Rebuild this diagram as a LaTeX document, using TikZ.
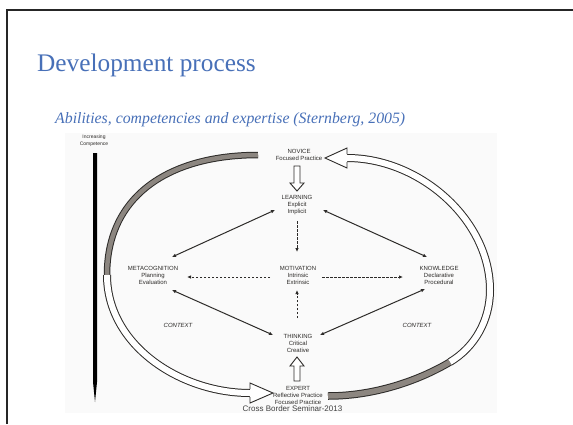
\documentclass[tikz,border=0pt]{standalone}
\usepackage{fontspec}
\setmainfont{Liberation Serif}
\newfontfamily\arialf{Liberation Sans}
\usetikzlibrary{arrows.meta}
\definecolor{titleblue}{RGB}{72,112,184}
\definecolor{ink}{RGB}{45,43,41}
\definecolor{ribbon}{RGB}{140,134,128}
\definecolor{footgray}{RGB}{64,64,64}
\begin{document}
\begin{tikzpicture}[x=1pt,y=-1pt,
  lbl/.style={font=\arialf\fontsize{6}{7}\selectfont, text=ink, align=center, inner sep=0},
  ctx/.style={font=\arialf\itshape\fontsize{6}{7}\selectfont, text=ink, inner sep=0},
  link/.style={draw=ink, line width=1pt, {Latex[length=4pt,width=3.5pt]}-{Latex[length=4pt,width=3.5pt]}},
  dlink/.style={draw=ink, line width=1pt, dash pattern=on 2.5pt off 1.5pt, -{Latex[length=4pt,width=3.5pt]}},
  hollowhead/.style={fill=white, draw=ink, line width=0.9pt, line join=miter},
]
\useasboundingbox (0,0) rectangle (573,424);
\fill[white] (0,0) rectangle (573,424);
% picture background
\fill[black!2] (65,133) rectangle (497,413);
% slide frame
\draw[line width=2pt, draw=black!85] (7,424) -- (7,10) -- (573,10);

% title and subtitle
\node[anchor=base west, inner sep=0, font=\fontsize{25.3}{30}\selectfont, text=titleblue] (title) at (37,71) {Development process};
\node[anchor=base west, inner sep=0, font=\itshape\fontsize{15.8}{19}\selectfont, text=titleblue] (subtitle) at (55,123) {Abilities, competencies and expertise (Sternberg, 2005)};

% increasing competence bar
\node[lbl, font=\arialf\fontsize{5}{7}\selectfont] (inc) at (94,141) {Increasing\\Competence};
\fill[black] (93,153) -- (97,153) -- (97,382) -- (95,402) -- (93,382) -- cycle;

% left ribbon: gray part then hollow part with arrowhead
\draw[ink, line width=6.5pt] (258,155) .. controls (170,155) and (107,195) .. (107,275);
\draw[ribbon, line width=4.5pt] (258,155) .. controls (170,155) and (107,195) .. (107,275);
\draw[ink, line width=8pt] (107,275) .. controls (107,345) and (180,393) .. (250,393);
\draw[white, line width=6pt] (107,275) .. controls (107,345) and (180,393) .. (250,393);
\filldraw[hollowhead] (250,389) -- (250,383) -- (273,393) -- (250,403) -- (250,397);

% right ribbon
\draw[ink, line width=7.5pt] (328,396) .. controls (380,396) and (425,377) .. (450,362);
\draw[ribbon, line width=5.5pt] (328,396) .. controls (380,396) and (425,377) .. (450,362);
\draw[ink, line width=8pt] (450,362) .. controls (475,347) and (490,320) .. (490,290) .. controls (490,220) and (420,158) .. (347,158);
\draw[white, line width=6pt] (450,362) .. controls (475,347) and (490,320) .. (490,290) .. controls (490,220) and (420,158) .. (347,158);
\filldraw[hollowhead] (347,154) -- (347,148) -- (325,158) -- (347,168) -- (347,162);

% nodes
\node[lbl] (novice) at (299,155) {NOVICE\\Focused Practice};
\node[lbl] (learning) at (297,205) {LEARNING\\Explicit\\Implicit};
\node[lbl] (motivation) at (298,275) {MOTIVATION\\Intrinsic\\Extrinsic};
\node[lbl] (meta) at (153,275) {METACOGNITION\\Planning\\Evaluation};
\node[lbl] (knowledge) at (439,275) {KNOWLEDGE\\Declarative\\Procedural};
\node[lbl] (thinking) at (298,343) {THINKING\\Critical\\Creative};
\node[lbl] (expert) at (298,395) {EXPERT\\Reflective Practice\\Focused Practice};
\node[ctx] (ctxl) at (178,325) {CONTEXT};
\node[ctx] (ctxr) at (417,325) {CONTEXT};

% hollow vertical arrows
\filldraw[hollowhead] (294,166) -- (300,166) -- (300,183) -- (304,183) -- (297,191) -- (290,183) -- (294,183) -- cycle;
\filldraw[hollowhead] (294,381) -- (300,381) -- (300,366) -- (304,366) -- (297,357) -- (290,366) -- (294,366) -- cycle;

% connector end points
\coordinate (lm1) at (297,221); \coordinate (lm2) at (297,252);
\coordinate (tm1) at (297,318); \coordinate (tm2) at (297,290);
\coordinate (mm1) at (270,277); \coordinate (mm2) at (187,277);
\coordinate (mk1) at (322,277); \coordinate (mk2) at (403,277);
\coordinate (ml1) at (172,257); \coordinate (ml2) at (275,210);
\coordinate (mt1) at (172,290); \coordinate (mt2) at (273,335);
\coordinate (lk1) at (323,210); \coordinate (lk2) at (427,257);
\coordinate (kt1) at (425,289); \coordinate (kt2) at (320,335);

\draw[dlink] (lm1) -- (lm2);
\draw[dlink] (tm1) -- (tm2);
\draw[dlink] (mm1) -- (mm2);
\draw[dlink] (mk1) -- (mk2);
\draw[link] (ml1) -- (ml2);
\draw[link] (mt1) -- (mt2);
\draw[link] (lk1) -- (lk2);
\draw[link] (kt1) -- (kt2);

% footer
\node[font=\arialf\fontsize{8}{9.6}\selectfont, text=footgray, anchor=base, inner sep=0] (footer) at (292.5,411) {Cross Border Seminar-2013};
\end{tikzpicture}
\end{document}
